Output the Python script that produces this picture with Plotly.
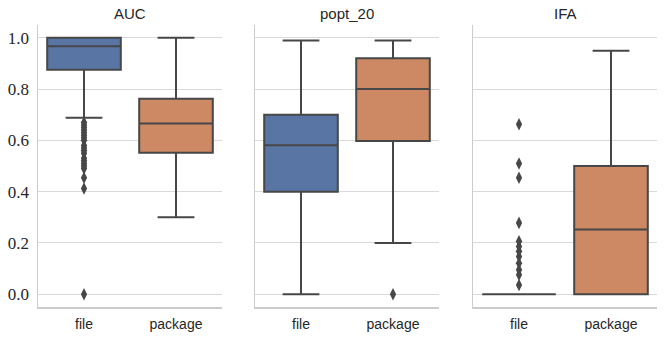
import plotly.graph_objects as go

metrics = ["AUC", "popt_20", "IFA"]
categories = ["file", "package"]

# precomputed box statistics per metric: [file, package]
q1 = {"AUC": [0.875, 0.552], "popt_20": [0.40, 0.598], "IFA": [0.0, 0.0]}
median = {"AUC": [0.967, 0.666], "popt_20": [0.581, 0.80], "IFA": [0.0, 0.252]}
q3 = {"AUC": [1.0, 0.762], "popt_20": [0.70, 0.92], "IFA": [0.0, 0.50]}
lowerfence = {"AUC": [0.688, 0.30], "popt_20": [0.0, 0.20], "IFA": [0.0, 0.0]}
upperfence = {"AUC": [1.0, 1.0], "popt_20": [0.99, 0.99], "IFA": [0.0, 0.95]}

# outliers per metric and category
outliers = {
    "AUC": {"file": [0.67, 0.66, 0.65, 0.64, 0.63, 0.62, 0.61, 0.60, 0.58, 0.57, 0.56,
                     0.55, 0.53, 0.52, 0.51, 0.50, 0.49, 0.454, 0.412, 0.0],
            "package": []},
    "popt_20": {"file": [], "package": [0.0]},
    "IFA": {"file": [0.663, 0.51, 0.454, 0.278, 0.206, 0.186, 0.167, 0.147, 0.121,
                     0.095, 0.076, 0.036],
            "package": []},
}

colors = ["#5875A4", "#CC8963"]
edge = "#474747"

W, H = 664, 341
ml, mr, mt, mb = 38, 7, 25, 34
pw = W - ml - mr
panels_px = [(38, 222), (255, 439), (473, 657)]
domains = [((a - ml) / pw, (b - ml) / pw) for a, b in panels_px]

fig = go.Figure()
for i, m in enumerate(metrics):
    xa = "x" if i == 0 else f"x{i+1}"
    ya = "y" if i == 0 else f"y{i+1}"
    for j, c in enumerate(categories):
        fig.add_trace(go.Box(
            x=[c], q1=[q1[m][j]], median=[median[m][j]], q3=[q3[m][j]],
            lowerfence=[lowerfence[m][j]], upperfence=[upperfence[m][j]],
            fillcolor=colors[j], line=dict(color=edge, width=2),
            width=0.8, whiskerwidth=0.5, boxpoints=False,
            xaxis=xa, yaxis=ya, showlegend=False, hoverinfo="skip",
        ))
        pts = outliers[m][c]
        if pts:
            fig.add_trace(go.Scatter(
                x=[c] * len(pts), y=pts, mode="markers",
                marker=dict(symbol="diamond-tall", size=9, color=edge, line=dict(width=0)),
                xaxis=xa, yaxis=ya, showlegend=False, hoverinfo="skip",
            ))

serif = "'Liberation Serif', 'Times New Roman', 'DejaVu Serif', serif"
sans = "'Liberation Sans', Arial, sans-serif"

layout = dict(
    width=W, height=H,
    margin=dict(l=ml, r=mr, t=mt, b=mb),
    plot_bgcolor="white", paper_bgcolor="white",
    showlegend=False, boxmode="overlay",
)
annotations = []
for i, m in enumerate(metrics):
    suffix = "" if i == 0 else str(i + 1)
    layout["xaxis" + suffix] = dict(
        domain=list(domains[i]), anchor="y" + suffix,
        type="category", categoryorder="array", categoryarray=categories,
        range=[-0.5, 1.5], showline=True, linecolor="#cccccc", linewidth=1.5,
        showgrid=False, ticks="", zeroline=False, automargin=False,
        ticklabelstandoff=4,
        tickfont=dict(family=sans, size=14, color="#262626"),
    )
    layout["yaxis" + suffix] = dict(
        anchor="x" + suffix, range=[-0.05, 1.05],
        tickvals=[0, 0.2, 0.4, 0.6, 0.8, 1.0],
        ticktext=["0.0", "0.2", "0.4", "0.6", "0.8", "1.0"],
        showticklabels=(i == 0), automargin=False,
        showline=True, linecolor="#cccccc", linewidth=1.5,
        showgrid=True, gridcolor="#d9d9d9", gridwidth=1, zeroline=False,
        ticks="", ticklabelstandoff=4,
        tickfont=dict(family=serif, size=17, color="#262626"),
    )
    if i > 0:
        layout["yaxis" + suffix]["matches"] = "y"
    annotations.append(dict(
        text=m, xref="paper", yref="paper",
        x=(domains[i][0] + domains[i][1]) / 2, y=1.0, yshift=12,
        xanchor="center", yanchor="middle", showarrow=False,
        font=dict(family=sans, size=15, color="#262626"),
    ))
layout["annotations"] = annotations
fig.update_layout(**layout)
fig.write_html("out.html", config={"displayModeBar": False, "staticPlot": True})

# remove the default body margin so the figure sits at the window origin
with open("out.html", "r", encoding="utf-8") as f:
    html = f.read()
html = html.replace("<head>", "<head><style>html,body{margin:0;padding:0;overflow:hidden;}</style>", 1)
with open("out.html", "w", encoding="utf-8") as f:
    f.write(html)
